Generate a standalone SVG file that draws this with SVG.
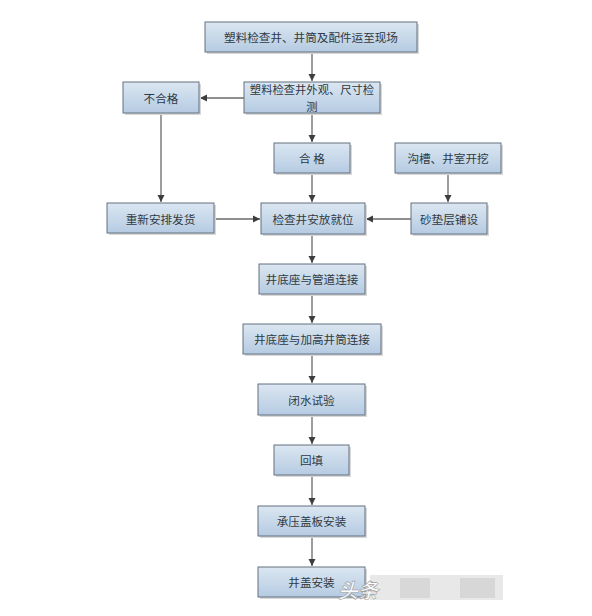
<svg xmlns="http://www.w3.org/2000/svg" width="592" height="616" viewBox="0 0 592 616">
<defs>
<linearGradient id="g" x1="0" y1="0" x2="0" y2="1">
<stop offset="0" stop-color="#dbe6f1"/>
<stop offset="1" stop-color="#b5cbe2"/>
</linearGradient>
<marker id="ah" markerWidth="8" markerHeight="8" refX="7" refY="4" orient="auto" markerUnits="userSpaceOnUse">
<path d="M0,0.5 L7,4 L0,7.5 Z" fill="#3d3d3d"/>
</marker>
<style>
.box rect.b{fill:url(#g);stroke:#64717e;stroke-width:1}
.box rect.s{fill:#d8d8d8;stroke:none}
.box text{font-family:"Noto Sans CJK SC","Noto Sans",sans-serif;font-size:11.6px;fill:#2f3a44;text-anchor:middle;dominant-baseline:central}
.c line,.c path{stroke:#6a6a6a;stroke-width:1.3;fill:none;marker-end:url(#ah)}
</style>
</defs>
<rect width="592" height="616" fill="#ffffff"/>
<g class="c" id="connectors">
<line x1="312" y1="52" x2="312" y2="81"/>
<line x1="244" y1="98" x2="200" y2="98"/>
<line x1="161" y1="113" x2="161" y2="202"/>
<line x1="312" y1="113" x2="312" y2="142"/>
<line x1="312" y1="173" x2="312" y2="202"/>
<line x1="448" y1="173" x2="448" y2="202"/>
<line x1="411" y1="219" x2="366" y2="219"/>
<line x1="214" y1="219" x2="260" y2="219"/>
<line x1="312" y1="234" x2="312" y2="263"/>
<line x1="312" y1="294" x2="312" y2="323"/>
<line x1="312" y1="354" x2="312" y2="383"/>
<line x1="312" y1="415" x2="312" y2="444"/>
<line x1="312" y1="475" x2="312" y2="505"/>
<line x1="312" y1="536" x2="312" y2="566"/>
</g>
<g class="box" id="n1"><rect class="s" x="207" y="24" width="212" height="30"/><rect class="b" x="205" y="22" width="212" height="30"/><text x="311" y="37">塑料检查井、井筒及配件运至现场</text></g>
<g class="box" id="n2"><rect class="s" x="246" y="84" width="136" height="31"/><rect class="b" x="244" y="82" width="136" height="31"/><text x="312" y="89" style="font-size:11.3px">塑料检查井外观、尺寸检</text><text x="312" y="106" style="font-size:11.3px">测</text></g>
<g class="box" id="n3"><rect class="s" x="125" y="84" width="76" height="31"/><rect class="b" x="123" y="82" width="76" height="31"/><text x="161" y="97.5">不合格</text></g>
<g class="box" id="n4"><rect class="s" x="276" y="145" width="76" height="30"/><rect class="b" x="274" y="143" width="76" height="30"/><text x="312" y="158">合 格</text></g>
<g class="box" id="n5"><rect class="s" x="397" y="145" width="106" height="30"/><rect class="b" x="395" y="143" width="106" height="30"/><text x="448" y="158">沟槽、井室开挖</text></g>
<g class="box" id="n6"><rect class="s" x="109" y="205" width="107" height="30"/><rect class="b" x="107" y="203" width="107" height="30"/><text x="160.5" y="218.5">重新安排发货</text></g>
<g class="box" id="n7"><rect class="s" x="263" y="205" width="104" height="31"/><rect class="b" x="261" y="203" width="104" height="31"/><text x="313" y="218.5">检查井安放就位</text></g>
<g class="box" id="n8"><rect class="s" x="413" y="205" width="76" height="31"/><rect class="b" x="411" y="203" width="76" height="31"/><text x="449" y="218.5">砂垫层铺设</text></g>
<g class="box" id="n9"><rect class="s" x="261" y="266" width="106" height="30"/><rect class="b" x="259" y="264" width="106" height="30"/><text x="312" y="279">井底座与管道连接</text></g>
<g class="box" id="n10"><rect class="s" x="245" y="326" width="138" height="30"/><rect class="b" x="243" y="324" width="138" height="30"/><text x="312" y="339">井底座与加高井筒连接</text></g>
<g class="box" id="n11"><rect class="s" x="260" y="386" width="107" height="31"/><rect class="b" x="258" y="384" width="107" height="31"/><text x="311.5" y="399.5">闭水试验</text></g>
<g class="box" id="n12"><rect class="s" x="276" y="447" width="75" height="30"/><rect class="b" x="274" y="445" width="75" height="30"/><text x="311.5" y="460">回填</text></g>
<g class="box" id="n13"><rect class="s" x="260" y="508" width="107" height="30"/><rect class="b" x="258" y="506" width="107" height="30"/><text x="311.5" y="521">承压盖板安装</text></g>
<g class="box" id="n14"><rect class="s" x="260" y="569" width="107" height="30"/><rect class="b" x="258" y="567" width="107" height="30"/><text x="311.5" y="582">井盖安装</text></g>
<g id="watermark">
<rect x="370" y="575" width="133" height="25" fill="#e2e2e2" opacity="0.8"/>
<rect x="400" y="578" width="30" height="20" fill="#d2d2d2" opacity="0.7"/>
<rect x="460" y="578" width="35" height="20" fill="#d0d0d0" opacity="0.7"/>
<text x="358" y="598" font-family="'Noto Sans CJK SC',sans-serif" font-size="20" font-style="italic" font-weight="bold" fill="#ffffff" stroke="#9a9a9a" stroke-width="0.6" text-anchor="middle" opacity="0.9">头条</text>
</g>
</svg>
